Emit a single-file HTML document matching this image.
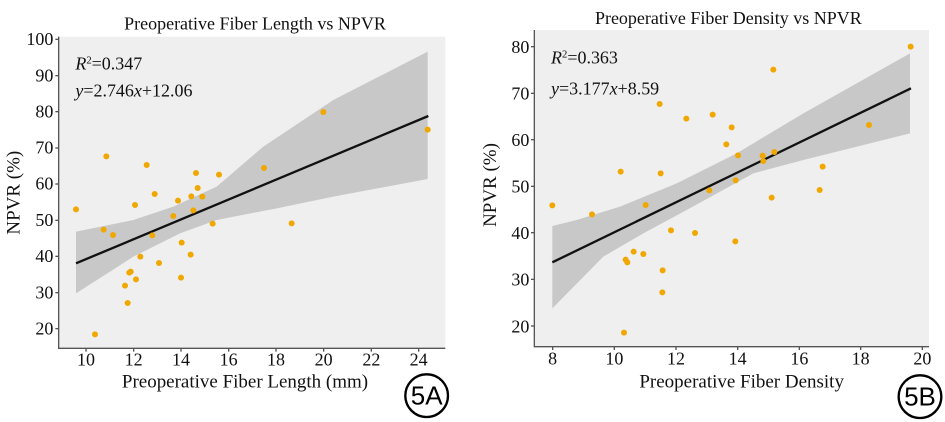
<!DOCTYPE html>
<html><head><style>html,body{margin:0;padding:0;background:#fff;}svg{display:block}svg text{font-family:"Liberation Serif","DejaVu Serif",serif;}svg text.sans{font-family:"Liberation Sans",sans-serif;}</style></head>
<body>
<svg width="945" height="422" viewBox="0 0 945 422" xmlns="http://www.w3.org/2000/svg">
<!-- LEFT -->
<g transform="scale(0.33333)">
<rect x="176" y="110" width="1160" height="935" fill="#efefef"/>
<path d="M228,695 L400,660 L520,620 L650,560 L790,440 L1000,300 L1283,155 L1283,537 L1000,590 L830,625 L650,660 L540,700 L400,770 L228,880 Z" fill="#c8c8c8"/>
<line x1="228" y1="790" x2="1285" y2="348" stroke="#111" stroke-width="7"/>
<g fill="#f0a800">
<circle cx="228" cy="628" r="9"/><circle cx="285" cy="1003" r="9"/><circle cx="311" cy="689" r="9"/><circle cx="319" cy="469" r="9"/><circle cx="339" cy="705" r="9"/><circle cx="375" cy="857" r="9"/><circle cx="383" cy="909" r="9"/><circle cx="388" cy="818" r="9"/><circle cx="392" cy="815" r="9"/><circle cx="405" cy="615" r="9"/><circle cx="408" cy="838" r="9"/><circle cx="421" cy="770" r="9"/><circle cx="440" cy="495" r="9"/><circle cx="457" cy="706" r="9"/><circle cx="464" cy="582" r="9"/><circle cx="477" cy="789" r="9"/><circle cx="520" cy="648" r="9"/><circle cx="534" cy="602" r="9"/><circle cx="543" cy="833" r="9"/><circle cx="545" cy="728" r="9"/><circle cx="572" cy="764" r="9"/><circle cx="574" cy="589" r="9"/><circle cx="580" cy="631" r="9"/><circle cx="588" cy="519" r="9"/><circle cx="593" cy="564" r="9"/><circle cx="607" cy="590" r="9"/><circle cx="638" cy="671" r="9"/><circle cx="657" cy="524" r="9"/><circle cx="792" cy="504" r="9"/><circle cx="875" cy="670" r="9"/><circle cx="970" cy="336" r="9"/><circle cx="1283" cy="389" r="9"/>
</g>
<path d="M176,110 L176,1045 L1336,1045" fill="none" stroke="#555" stroke-width="4"/>
<g stroke="#555" stroke-width="4">
<line x1="166" y1="118" x2="176" y2="118"/><line x1="166" y1="227" x2="176" y2="227"/><line x1="166" y1="335" x2="176" y2="335"/><line x1="166" y1="444" x2="176" y2="444"/><line x1="166" y1="552" x2="176" y2="552"/><line x1="166" y1="661" x2="176" y2="661"/><line x1="166" y1="769" x2="176" y2="769"/><line x1="166" y1="878" x2="176" y2="878"/><line x1="166" y1="986" x2="176" y2="986"/>
<line x1="258" y1="1045" x2="258" y2="1055"/><line x1="401" y1="1045" x2="401" y2="1055"/><line x1="543" y1="1045" x2="543" y2="1055"/><line x1="686" y1="1045" x2="686" y2="1055"/><line x1="828" y1="1045" x2="828" y2="1055"/><line x1="971" y1="1045" x2="971" y2="1055"/><line x1="1114" y1="1045" x2="1114" y2="1055"/><line x1="1256" y1="1045" x2="1256" y2="1055"/>
</g>
<g font-size="54" fill="#111" text-anchor="end">
<text x="160" y="135">100</text><text x="160" y="244">90</text><text x="160" y="352">80</text><text x="160" y="461">70</text><text x="160" y="569">60</text><text x="160" y="678">50</text><text x="160" y="786">40</text><text x="160" y="895">30</text><text x="160" y="1003">20</text>
</g>
<g font-size="54" fill="#111" text-anchor="middle">
<text x="258" y="1097">10</text><text x="401" y="1097">12</text><text x="543" y="1097">14</text><text x="686" y="1097">16</text><text x="828" y="1097">18</text><text x="971" y="1097">20</text><text x="1114" y="1097">22</text><text x="1256" y="1097">24</text>
</g>
<text x="765" y="88" font-size="54" text-anchor="middle" fill="#111">Preoperative Fiber Length vs NPVR</text>
<text x="735" y="1163" font-size="57" text-anchor="middle" fill="#111">Preoperative Fiber Length (mm)</text>
<text transform="translate(58,578) rotate(-90)" font-size="57" text-anchor="middle" fill="#111">NPVR (%)</text>
<text x="226" y="208" font-size="54" fill="#111"><tspan font-style="italic">R</tspan><tspan font-size="32" dy="-18">2</tspan><tspan dy="18">=0.347</tspan></text>
<text x="226" y="290" font-size="54" fill="#111"><tspan font-style="italic">y</tspan>=2.746<tspan font-style="italic">x</tspan>+12.06</text>
<circle cx="1280" cy="1187" r="64" fill="none" stroke="#000" stroke-width="7"/>
<text class="sans" x="1280" y="1214" font-size="78" text-anchor="middle" fill="#000">5A</text>
</g>
<!-- RIGHT -->
<g transform="translate(470,0) scale(0.33333)">
<rect x="193" y="90" width="1184" height="950" fill="#efefef"/>
<path d="M247,678 L320,660 L450,620 L620,550 L800,460 L1000,340 L1320,160 L1320,400 L1000,480 L850,520 L650,630 L520,700 L400,770 L247,925 Z" fill="#c8c8c8"/>
<line x1="247" y1="787" x2="1323" y2="265" stroke="#111" stroke-width="7"/>
<g fill="#f0a800">
<circle cx="247" cy="616" r="9"/><circle cx="366" cy="643" r="9"/><circle cx="452" cy="515" r="9"/><circle cx="462" cy="998" r="9"/><circle cx="467" cy="779" r="9"/><circle cx="472" cy="787" r="9"/><circle cx="491" cy="755" r="9"/><circle cx="520" cy="762" r="9"/><circle cx="527" cy="615" r="9"/><circle cx="569" cy="312" r="9"/><circle cx="572" cy="520" r="9"/><circle cx="578" cy="811" r="9"/><circle cx="577" cy="877" r="9"/><circle cx="603" cy="691" r="9"/><circle cx="649" cy="356" r="9"/><circle cx="675" cy="699" r="9"/><circle cx="718" cy="571" r="9"/><circle cx="728" cy="344" r="9"/><circle cx="785" cy="382" r="9"/><circle cx="769" cy="433" r="9"/><circle cx="796" cy="724" r="9"/><circle cx="797" cy="541" r="9"/><circle cx="804" cy="466" r="9"/><circle cx="878" cy="467" r="9"/><circle cx="880" cy="483" r="9"/><circle cx="905" cy="593" r="9"/><circle cx="910" cy="209" r="9"/><circle cx="913" cy="456" r="9"/><circle cx="1049" cy="570" r="9"/><circle cx="1058" cy="500" r="9"/><circle cx="1197" cy="375" r="9"/><circle cx="1322" cy="140" r="9"/>
</g>
<path d="M193,90 L193,1040 L1377,1040" fill="none" stroke="#555" stroke-width="4"/>
<g stroke="#555" stroke-width="4">
<line x1="183" y1="140" x2="193" y2="140"/><line x1="183" y1="280" x2="193" y2="280"/><line x1="183" y1="419" x2="193" y2="419"/><line x1="183" y1="559" x2="193" y2="559"/><line x1="183" y1="698" x2="193" y2="698"/><line x1="183" y1="838" x2="193" y2="838"/><line x1="183" y1="978" x2="193" y2="978"/>
<line x1="248" y1="1040" x2="248" y2="1050"/><line x1="433" y1="1040" x2="433" y2="1050"/><line x1="618" y1="1040" x2="618" y2="1050"/><line x1="803" y1="1040" x2="803" y2="1050"/><line x1="988" y1="1040" x2="988" y2="1050"/><line x1="1172" y1="1040" x2="1172" y2="1050"/><line x1="1357" y1="1040" x2="1357" y2="1050"/>
</g>
<g font-size="54" fill="#111" text-anchor="end">
<text x="178" y="159">80</text><text x="178" y="299">70</text><text x="178" y="438">60</text><text x="178" y="578">50</text><text x="178" y="717">40</text><text x="178" y="857">30</text><text x="178" y="997">20</text>
</g>
<g font-size="54" fill="#111" text-anchor="middle">
<text x="248" y="1094">8</text><text x="433" y="1094">10</text><text x="618" y="1094">12</text><text x="803" y="1094">14</text><text x="988" y="1094">16</text><text x="1172" y="1094">18</text><text x="1357" y="1094">20</text>
</g>
<text x="775" y="72" font-size="54" text-anchor="middle" fill="#111">Preoperative Fiber Density vs NPVR</text>
<text x="815" y="1162" font-size="57" text-anchor="middle" fill="#111">Preoperative Fiber Density</text>
<text transform="translate(78,555) rotate(-90)" font-size="57" text-anchor="middle" fill="#111">NPVR (%)</text>
<text x="243" y="190" font-size="54" fill="#111"><tspan font-style="italic">R</tspan><tspan font-size="32" dy="-18">2</tspan><tspan dy="18">=0.363</tspan></text>
<text x="243" y="283" font-size="54" fill="#111"><tspan font-style="italic">y</tspan>=3.177<tspan font-style="italic">x</tspan>+8.59</text>
<circle cx="1350" cy="1190" r="64" fill="none" stroke="#000" stroke-width="7"/>
<text class="sans" x="1350" y="1217" font-size="78" text-anchor="middle" fill="#000">5B</text>
</g>
</svg>
</body></html>
